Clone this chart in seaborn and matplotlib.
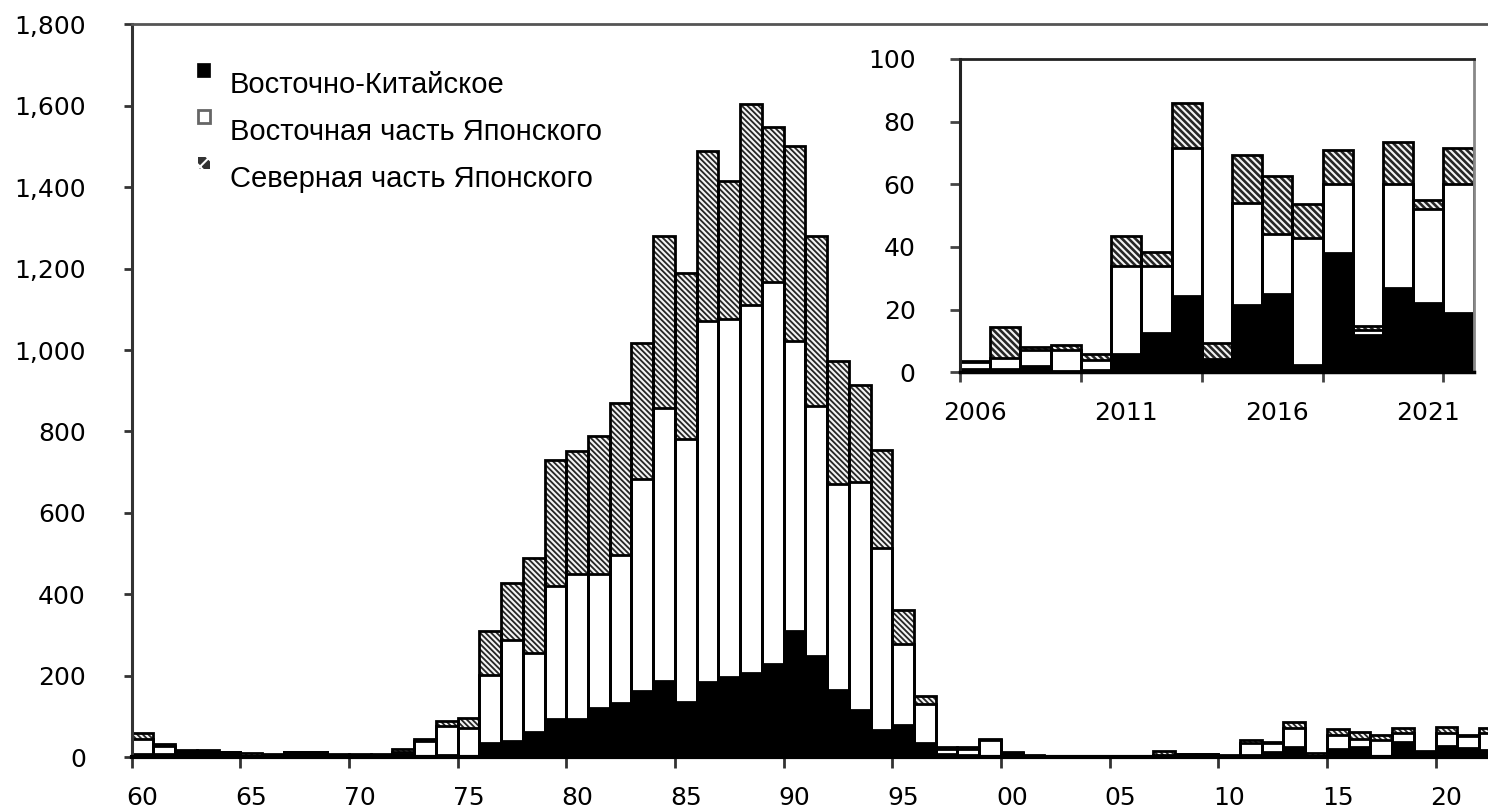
import numpy as np
import pandas as pd
import matplotlib
matplotlib.use("Agg")
import matplotlib.pyplot as plt
import seaborn as sns
from matplotlib.patches import Rectangle

# ---------------- data ----------------
# Main chart: years 1960-2022 (three regions, stacked)
early_years = list(range(1960, 2006))
early_black = [8, 8, 14, 13, 12, 4, 2, 12, 12, 3, 3, 3, 8, 4, 6, 4,
               35, 39, 61, 93, 95, 121, 133, 163, 188, 137, 184, 197, 207, 230,
               311, 248, 165, 116, 67, 80, 36,
               8, 5, 3, 10, 4, 0, 0, 0, 0]
early_white = [37, 20, 0, 0, 0, 0, 0, 0, 0, 0, 0, 0, 4, 37, 70, 68,
               166, 249, 194, 328, 354, 328, 363, 521, 670, 645, 887, 878, 903, 937,
               710, 614, 506, 561, 448, 197, 95,
               13, 15, 40, 1, 0, 1, 1, 1, 1]
early_hatch = [14, 4, 5, 5, 2, 6, 5, 1, 1, 5, 5, 5, 8, 5, 14, 25,
               110, 139, 234, 310, 302, 340, 375, 334, 423, 408, 417, 340, 495, 381,
               480, 418, 301, 238, 239, 85, 19,
               5, 5, 1, 1, 2, 3, 3, 3, 3]

# Inset: years 2006-2022
recent_years = list(range(2006, 2023))
recent_black = [1, 1, 2, 0.5, 0.7, 6, 12.5, 24.5, 4, 21.5, 25, 2.3, 38, 12, 27, 22, 19]
recent_white = [2.2, 3.5, 5, 6.6, 3.2, 28, 21.5, 47, 0.3, 32.5, 19, 40.5, 22, 1.5, 33, 30, 41]
recent_hatch = [0.5, 10, 1, 1.6, 2, 9.5, 4.5, 14.5, 5.2, 15.5, 18.5, 11, 11, 1.2, 13.5, 3, 11.5]

main_years = early_years + recent_years
main_black = early_black + recent_black
main_white = early_white + recent_white
main_hatch = early_hatch + recent_hatch

main_xlabels = ["60", "65", "70", "75", "80", "85", "90", "95", "00", "05", "10", "15", "20"]
main_yticks = [0, 200, 400, 600, 800, 1000, 1200, 1400, 1600, 1800]
inset_xlabels = ["2006", "2011", "2016", "2021"]
inset_yticks = [0, 20, 40, 60, 80, 100]
legend_labels = ["Восточно-Китайское", "Восточная часть Японского", "Северная часть Японского"]

# ---------------- style ----------------
sns.set_theme(style="white")
plt.rcParams["font.family"] = ["DejaVu Sans"]
plt.rcParams["hatch.linewidth"] = 1.5

W, H = 1488, 811
fig = plt.figure(figsize=(W / 100, H / 100), dpi=100)
fig.patch.set_facecolor("white")


def draw_stack(ax, years, black, white, hatch, pattern, lw):
    b = np.array(black, dtype=float)
    w = np.array(white, dtype=float)
    h = np.array(hatch, dtype=float)
    cats = [str(y) for y in years]
    df = pd.DataFrame({"cat": cats, "tot": b + w + h, "bw": b + w, "b": b})
    common = dict(data=df, x="cat", order=cats, width=1.0, errorbar=None,
                  ax=ax, saturation=1)
    sns.barplot(y="tot", facecolor="#262626", edgecolor="#f4f4f4", hatch=pattern,
                linewidth=0, **common)
    sns.barplot(y="bw", facecolor="white", edgecolor="none", linewidth=0, **common)
    sns.barplot(y="b", facecolor="black", edgecolor="none", linewidth=0, **common)
    for col in ["tot", "bw", "b"]:
        sns.barplot(y=col, facecolor="none", edgecolor="black", linewidth=lw, **common)
    ax.set_xlabel("")
    ax.set_ylabel("")


# ---------------- main axes ----------------
left_px, base_px, top_px = 131.7, 757.3, 24.2
bar_px = 21.73
ax = fig.add_axes([left_px / W, (H - base_px) / H, (W - left_px) / W, (base_px - top_px) / H])
draw_stack(ax, main_years, main_black, main_white, main_hatch, "\\" * 6, 2.0)

n_vis = (W - left_px) / bar_px
ax.set_xlim(-0.5, -0.5 + n_vis)
ax.set_ylim(0, 1800)
ax.set_yticks(main_yticks)
ax.set_yticklabels([f"{v:,}" for v in main_yticks], fontsize=18)
ax.set_xticks(np.arange(-0.5, 63, 5))
ax.set_xticklabels([])
ax.set_xticks(np.arange(0, 61, 5), minor=True)
ax.set_xticklabels(main_xlabels, minor=True, fontsize=18)
ax.tick_params(axis="y", which="major", left=True, length=6, width=2, color="#333",
               direction="out", pad=27, labelcolor="black")
ax.tick_params(axis="x", which="major", bottom=True, length=8, width=2, color="#333",
               direction="out")
ax.tick_params(axis="x", which="minor", bottom=True, length=0, pad=21, labelcolor="black")
ax.spines["right"].set_visible(False)
ax.spines["left"].set_linewidth(2.2)
ax.spines["left"].set_color("#333333")
ax.spines["top"].set_linewidth(2)
ax.spines["top"].set_color("#555555")
ax.spines["bottom"].set_linewidth(3)
ax.spines["bottom"].set_color("black")
ax.grid(False)

# ---------------- legend (manual, Excel-like) ----------------
text_base = [92.7, 140.0, 186.7]
for lab, yb in zip(legend_labels, text_base):
    fig.text(230 / W, 1 - yb / H, lab, fontsize=21, va="baseline", ha="left",
             family=["Liberation Sans", "DejaVu Sans"], color="black")
marker_boxes = [(197, 63, 13, 14), (198, 110, 12, 13), (198, 157, 12, 12)]
fig.add_artist(Rectangle((marker_boxes[0][0] / W, 1 - (marker_boxes[0][1] + marker_boxes[0][3]) / H),
                         marker_boxes[0][2] / W, marker_boxes[0][3] / H,
                         transform=fig.transFigure, facecolor="black", edgecolor="black", lw=0.5))
fig.add_artist(Rectangle((marker_boxes[1][0] / W, 1 - (marker_boxes[1][1] + marker_boxes[1][3]) / H),
                         marker_boxes[1][2] / W, marker_boxes[1][3] / H,
                         transform=fig.transFigure, facecolor="white", edgecolor="#666666", lw=2))
fig.add_artist(Rectangle((marker_boxes[2][0] / W, 1 - (marker_boxes[2][1] + marker_boxes[2][3]) / H),
                         marker_boxes[2][2] / W, marker_boxes[2][3] / H,
                         transform=fig.transFigure, facecolor="#333333", edgecolor="white",
                         hatch="xx", lw=0))

# ---------------- inset ----------------
in_left, in_right, in_top, in_base = 960.0, 1473.7, 59.0, 372.3
axin = fig.add_axes([in_left / W, (H - in_base) / H, (in_right - in_left) / W, (in_base - in_top) / H])
axin.set_facecolor("white")
draw_stack(axin, recent_years, recent_black, recent_white, recent_hatch, "\\" * 5, 2.0)
axin.set_xlim(-0.5, len(recent_years) - 0.5)
axin.set_ylim(0, 100)
axin.set_yticks(inset_yticks)
axin.set_yticklabels([str(v) for v in inset_yticks], fontsize=18)
axin.set_xticks(np.arange(-0.5, len(recent_years), 4))
axin.set_xticklabels([])
axin.set_xticks(np.arange(0, 16, 5), minor=True)
axin.set_xticklabels(inset_xlabels, minor=True, fontsize=18)
axin.tick_params(axis="y", which="major", left=True, length=7, width=2, color="#444",
                 direction="out", pad=25, labelcolor="black")
axin.tick_params(axis="x", which="major", bottom=True, length=7, width=2, color="#444",
                 direction="out")
axin.tick_params(axis="x", which="minor", bottom=True, length=0, pad=21, labelcolor="black")
axin.spines["left"].set_linewidth(2.2)
axin.spines["left"].set_color("#222222")
axin.spines["top"].set_linewidth(2)
axin.spines["top"].set_color("#222222")
axin.spines["right"].set_linewidth(2)
axin.spines["right"].set_color("#888888")
axin.spines["bottom"].set_linewidth(2.5)
axin.spines["bottom"].set_color("black")
axin.grid(False)

fig.savefig("out.png", dpi=100, facecolor="white")
